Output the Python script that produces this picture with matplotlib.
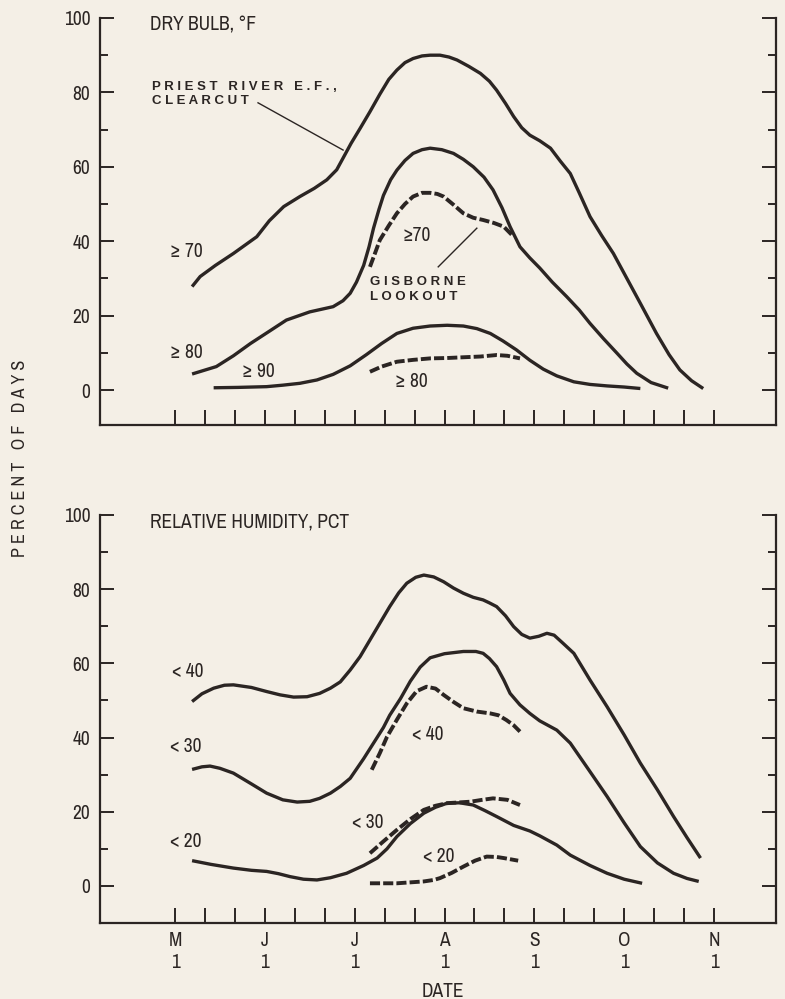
import matplotlib.pyplot as plt
import numpy as np

plt.rcParams['font.family'] = ['Archivo Narrow', 'Roboto Condensed', 'DejaVu Sans']

BG = '#f4efe6'
INK = '#2b2523'

# x in months after May 1 (0 = May 1, 1 = Jun 1, ...)
months = ['M', 'J', 'J', 'A', 'S', 'O', 'N']

# ---- dry bulb, Priest River clearcut ----
t70_x = [0.19, 0.28, 0.45, 0.65, 0.91, 1.05, 1.21, 1.39, 1.55, 1.69, 1.80, 1.87, 1.96, 2.06, 2.17, 2.28,
         2.38, 2.47, 2.56, 2.65, 2.75, 2.84, 2.95, 3.05, 3.14, 3.27, 3.40, 3.50, 3.58, 3.68, 3.77, 3.86,
         3.95, 4.06, 4.18, 4.29, 4.40, 4.50, 4.62, 4.75, 4.88, 5.03, 5.18, 5.36, 5.50, 5.62, 5.75, 5.88]
t70_y = [27.8, 30.5, 33.5, 36.7, 41.2, 45.5, 49.3, 52.0, 54.2, 56.5, 59.2, 62.3, 66.3, 70.3, 74.8, 79.5,
         83.5, 86.0, 88.0, 89.1, 89.8, 90.0, 90.0, 89.5, 88.7, 87.0, 85.1, 83.0, 80.6, 77.0, 73.5, 70.5,
         68.5, 67.0, 65.0, 61.5, 58.2, 53.0, 46.6, 41.5, 36.7, 30.0, 23.3, 15.2, 9.5, 5.4, 2.5, 0.4]

t80_x = [0.19, 0.46, 0.65, 0.84, 1.05, 1.24, 1.50, 1.76, 1.87, 1.95, 2.02, 2.10, 2.16, 2.21, 2.27, 2.32,
         2.40, 2.47, 2.56, 2.65, 2.75, 2.84, 2.97, 3.10, 3.21, 3.32, 3.44, 3.54, 3.64, 3.73, 3.84, 3.95,
         4.06, 4.20, 4.36, 4.50, 4.62, 4.77, 4.92, 5.03, 5.14, 5.30, 5.49]
t80_y = [4.3, 6.3, 9.2, 12.5, 15.8, 18.8, 21.0, 22.4, 24.0, 26.0, 29.0, 33.5, 38.5, 43.5, 48.5, 52.3,
         56.5, 59.1, 61.7, 63.6, 64.6, 65.0, 64.6, 63.6, 62.0, 60.0, 57.2, 53.8, 49.0, 43.9, 38.5, 35.5,
         32.8, 29.0, 25.1, 21.5, 17.9, 13.8, 9.9, 7.0, 4.5, 2.0, 0.5]

t90_x = [0.43, 0.70, 1.02, 1.20, 1.39, 1.58, 1.76, 1.95, 2.13, 2.30, 2.47, 2.65, 2.84, 3.03, 3.21, 3.36,
         3.51, 3.65, 3.80, 3.95, 4.10, 4.25, 4.44, 4.62, 4.81, 5.00, 5.18]
t90_y = [0.6, 0.7, 0.9, 1.3, 1.8, 2.7, 4.2, 6.5, 9.5, 12.5, 15.2, 16.6, 17.2, 17.4, 17.2, 16.5,
         15.2, 13.2, 10.8, 8.0, 5.6, 3.8, 2.2, 1.5, 1.1, 0.8, 0.4]

# ---- dry bulb, Gisborne lookout ----
g70_x = [2.17, 2.23, 2.28, 2.38, 2.47, 2.56, 2.65, 2.75, 2.84, 2.92, 2.99, 3.10, 3.21, 3.32, 3.43, 3.55, 3.66, 3.77]
g70_y = [33.1, 37.0, 40.3, 44.2, 47.5, 50.0, 52.0, 53.0, 53.0, 52.7, 52.0, 49.8, 47.5, 46.3, 45.7, 44.9, 43.9, 41.2]

g80_x = [2.17, 2.30, 2.47, 2.65, 2.84, 3.03, 3.21, 3.40, 3.58, 3.70, 3.84]
g80_y = [4.9, 6.3, 7.6, 8.1, 8.5, 8.6, 8.8, 9.0, 9.4, 9.2, 8.5]

# ---- relative humidity, Priest River clearcut ----
h40_x = [0.19, 0.30, 0.43, 0.55, 0.65, 0.85, 1.02, 1.17, 1.32, 1.47, 1.61, 1.73, 1.84, 1.95, 2.06, 2.17,
         2.28, 2.39, 2.49, 2.58, 2.68, 2.77, 2.88, 2.99, 3.10, 3.21, 3.32, 3.43, 3.50, 3.58, 3.68, 3.77,
         3.86, 3.95, 4.05, 4.14, 4.22, 4.32, 4.44, 4.62, 4.81, 5.00, 5.18, 5.37, 5.55, 5.70, 5.85]
h40_y = [49.7, 51.8, 53.3, 54.1, 54.2, 53.5, 52.4, 51.5, 50.9, 51.0, 51.9, 53.3, 55.0, 58.2, 61.8, 66.3,
         70.8, 75.3, 79.0, 81.6, 83.2, 83.8, 83.3, 82.0, 80.3, 78.9, 77.8, 77.1, 76.3, 75.3, 72.8, 69.9,
         67.8, 66.8, 67.3, 68.1, 67.6, 65.4, 62.7, 55.5, 48.3, 40.7, 33.1, 25.9, 18.7, 13.0, 7.5]

h30_x = [0.19, 0.30, 0.39, 0.50, 0.65, 0.85, 1.02, 1.20, 1.36, 1.50, 1.61, 1.73, 1.84, 1.95, 2.10, 2.21,
         2.32, 2.39, 2.51, 2.62, 2.73, 2.84, 3.00, 3.21, 3.35, 3.43, 3.50, 3.58, 3.66, 3.73, 3.84, 3.95,
         4.06, 4.25, 4.40, 4.60, 4.81, 5.00, 5.18, 5.37, 5.55, 5.70, 5.83]
h30_y = [31.4, 32.1, 32.3, 31.7, 30.4, 27.5, 25.0, 23.2, 22.6, 22.8, 23.6, 25.0, 26.8, 29.0, 34.3, 38.5,
         42.7, 46.0, 50.5, 55.2, 59.0, 61.5, 62.6, 63.2, 63.2, 62.7, 61.3, 59.1, 55.5, 51.9, 48.8, 46.5,
         44.5, 42.0, 38.5, 31.5, 24.1, 17.0, 10.6, 6.2, 3.4, 2.0, 1.2]

h20_x = [0.19, 0.40, 0.65, 0.85, 1.02, 1.15, 1.28, 1.43, 1.58, 1.73, 1.91, 2.10, 2.25, 2.36, 2.47, 2.62,
         2.77, 2.90, 3.03, 3.17, 3.32, 3.45, 3.58, 3.77, 3.95, 4.06, 4.25, 4.40, 4.62, 4.81, 5.00, 5.20]
h20_y = [6.8, 5.8, 4.8, 4.2, 3.9, 3.3, 2.5, 1.8, 1.6, 2.2, 3.4, 5.5, 7.5, 10.0, 13.3, 16.8,
         19.6, 21.2, 22.3, 22.4, 21.8, 20.3, 18.7, 16.3, 14.8, 13.5, 11.0, 8.3, 5.5, 3.4, 1.8, 0.7]

# ---- relative humidity, Gisborne lookout ----
gh40_x = [2.19, 2.28, 2.36, 2.47, 2.58, 2.69, 2.80, 2.90, 2.99, 3.10, 3.21, 3.36, 3.51, 3.60, 3.69, 3.77, 3.84]
gh40_y = [31.3, 35.8, 40.2, 44.8, 49.2, 52.5, 53.7, 53.2, 51.5, 49.6, 47.9, 47.0, 46.5, 46.0, 44.7, 43.3, 41.6]

gh30_x = [2.17, 2.32, 2.47, 2.62, 2.77, 2.90, 3.03, 3.16, 3.29, 3.42, 3.54, 3.70, 3.84]
gh30_y = [8.8, 12.0, 15.1, 18.0, 20.5, 21.6, 22.3, 22.5, 22.7, 23.2, 23.6, 23.2, 21.8]

gh20_x = [2.17, 2.47, 2.77, 2.88, 2.95, 3.08, 3.21, 3.34, 3.47, 3.58, 3.66, 3.82]
gh20_y = [0.7, 0.7, 1.2, 1.6, 2.1, 3.5, 5.2, 6.8, 7.9, 7.8, 7.5, 6.8]


fig = plt.figure(figsize=(7.85, 9.99), dpi=100, facecolor=BG)
ax1 = fig.add_axes([0.1274, 0.5746, 0.8611, 0.4074])
ax2 = fig.add_axes([0.1274, 0.0761, 0.8611, 0.4084])

solid = dict(color=INK, lw=2.4, solid_capstyle='butt', solid_joinstyle='round')
dash = dict(color=INK, lw=2.8, linestyle=(0, (2.6, 0.8)), dash_capstyle='butt')

for ax in (ax1, ax2):
    ax.set_facecolor(BG)
    ax.spines['top'].set_visible(False)
    for s in ('left', 'right', 'bottom'):
        ax.spines[s].set_linewidth(1.6)
        ax.spines[s].set_color(INK)
    ax.set_xlim(-0.835, 6.69)
    ax.set_yticks([0, 20, 40, 60, 80, 100])
    ax.set_yticks([10, 30, 50, 70, 90], minor=True)
    ax.set_xticks(range(len(months)))
    ax.set_xticks([m + k / 3 for m in range(len(months) - 1) for k in (1, 2)], minor=True)
    ax.tick_params(axis='y', which='both', direction='in', left=True, right=True,
                   width=1.4, color=INK, labelsize=14, pad=7, labelcolor=INK)
    ax.tick_params(axis='y', which='major', length=10)
    ax.tick_params(axis='y', which='minor', length=6)
    ax.tick_params(axis='x', which='both', direction='in', length=11, width=1.4,
                   color=INK, labelsize=14, pad=6, labelcolor=INK)

ax1.set_ylim(-9.4, 100)
ax2.set_ylim(-10, 100)
ax1.set_xticklabels([])
ax2.set_xticklabels([m + '\n1' for m in months])

ax1.plot(t70_x, t70_y, **solid)
ax1.plot(t80_x, t80_y, **solid)
ax1.plot(t90_x, t90_y, **solid)
ax1.plot(g70_x, g70_y, **dash)
ax1.plot(g80_x, g80_y, **dash)

ax2.plot(h40_x, h40_y, **solid)
ax2.plot(h30_x, h30_y, **solid)
ax2.plot(h20_x, h20_y, **solid)
ax2.plot(gh40_x, gh40_y, **dash)
ax2.plot(gh30_x, gh30_y, **dash)
ax2.plot(gh20_x, gh20_y, **dash)

lab = dict(fontsize=14, color=INK, va='center', ha='left')
bold = dict(fontsize=9.5, color=INK, va='center', ha='left', fontweight='bold',
            family=['Liberation Sans', 'DejaVu Sans'], linespacing=1.25)

ax1.text(-0.278, 98.1, 'DRY BULB, °F', **lab)
ax1.text(-0.056, 37.1, '≥ 70', **lab)
ax1.text(-0.056, 10.2, '≥ 80', **lab)
ax1.text(0.746, 5.1, '≥ 90', **lab)
ax1.text(2.53, 41.4, '≥70', **lab)
ax1.text(2.45, 2.4, '≥ 80', **lab)
ax1.text(-0.256, 79.5, 'P R I E S T   R I V E R   E . F . ,\nC L E A R C U T', **bold)
ax1.plot([0.924, 1.871], [77.2, 64.5], color=INK, lw=1.0)
ax1.text(2.17, 27.0, 'G I S B O R N E\nL O O K O U T', **bold)
ax1.plot([2.93, 3.36], [33.1, 43.5], color=INK, lw=1.0)

ax2.text(-0.278, 98.1, 'RELATIVE HUMIDITY, PCT', **lab)
ax2.text(-0.033, 57.7, '< 40', **lab)
ax2.text(-0.056, 37.7, '< 30', **lab)
ax2.text(-0.056, 12.1, '< 20', **lab)
ax2.text(2.64, 40.7, '< 40', **lab)
ax2.text(1.97, 17.0, '< 30', **lab)
ax2.text(2.76, 7.8, '< 20', **lab)

fig.text(0.0255, 0.5415, 'P E R C E N T   O F   D A Y S', rotation=90, ha='center', va='center',
         fontsize=13, color=INK)
fig.text(0.564, 0.008, 'DATE', ha='center', va='center', fontsize=14, color=INK)

fig.savefig('out.png', dpi=100, facecolor=BG)
